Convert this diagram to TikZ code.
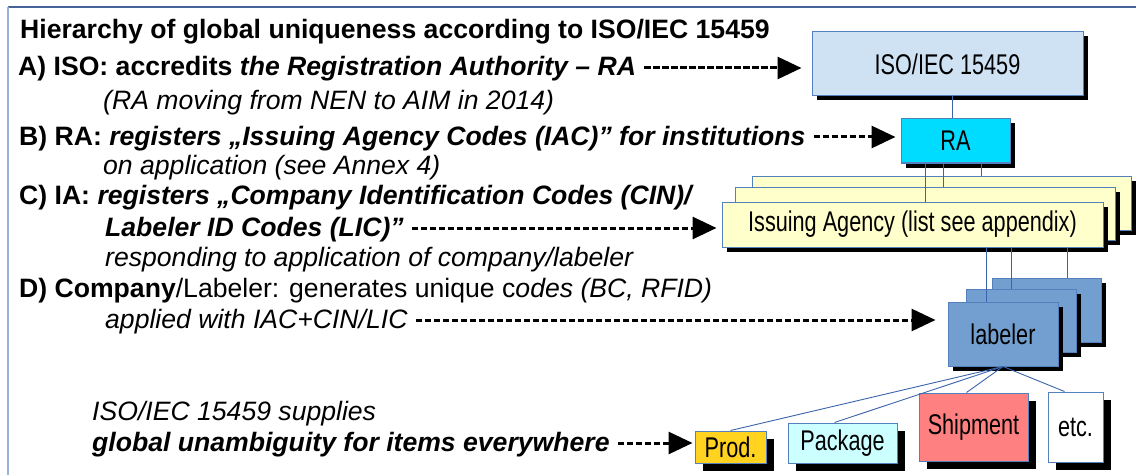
\documentclass[tikz,border=0pt]{standalone}
\usepackage{fontspec}
\setmainfont{Liberation Sans}
\newfontfamily\boxfont[FakeStretch=0.76]{Liberation Sans}
\usetikzlibrary{arrows.meta,shadows}

\definecolor{framedark}{RGB}{70,100,150}
\definecolor{framelight}{RGB}{150,178,220}
\definecolor{boxline}{RGB}{85,128,190}
\definecolor{linkblue}{RGB}{60,100,170}
\definecolor{isofill}{RGB}{207,226,243}
\definecolor{rafill}{RGB}{0,220,255}
\definecolor{iafill}{RGB}{255,255,204}
\definecolor{labfill}{RGB}{114,159,207}
\definecolor{prodfill}{RGB}{255,211,32}
\definecolor{pkgfill}{RGB}{204,255,255}
\definecolor{shipfill}{RGB}{255,128,128}

\tikzset{
	txt/.style={anchor=base west, inner sep=0pt, font=\fontsize{26.6}{32}\selectfont},
	box/.style={draw=boxline, line width=1pt, inner sep=0pt, font=\boxfont\fontsize{28.5}{28.5}\selectfont,
		general shadow={fill=black, shadow xshift=#1, shadow yshift=-#1}},
	box/.default=4.5pt,
	link/.style={draw=linkblue, line width=0.9pt},
	dasharrow/.style={line width=3pt, dash pattern=on 6.5pt off 2.5pt, -{Triangle[length=24pt,width=22pt]}}
}

\begin{document}
\begin{tikzpicture}[x=1pt,y=1pt]
		%%%%% START %%%%%
		\fill[white] (0,0) rectangle (1136,475);
		\useasboundingbox (0,0) rectangle (1136,475);
		
		\draw[framedark, line width=1.2pt] (8,468) -- (1136,468);
		\draw[framelight, line width=1.5pt] (8,468) -- (8,0);
		
		% text on the left
		\node[txt] (title) at (20,436) {\textbf{Hierarchy of global uniqueness according to ISO/IEC 15459}};
		\node[txt] (lineA) at (18,399) {\textbf{A) ISO: accredits \textit{the Registration Authority – RA}}};
		\node[txt] (lineA2) at (103,365) {\textit{(RA moving from NEN to AIM in 2014)}};
		\node[txt] (lineB) at (19,330) {\textbf{B) RA: \textit{registers „Issuing Agency Codes (IAC)” for institutions}}};
		\node[txt] (lineB2) at (103,301) {\textit{on application (see Annex 4)}};
		\node[txt] (lineC) at (19,271) {\textbf{C) IA: \textit{registers „Company Identification Codes (CIN)/}}};
		\node[txt] (lineC2) at (105,239) {\textbf{\textit{Labeler ID Codes (LIC)”}}};
		\node[txt] (lineC3) at (105,209) {\textit{responding to application of company/labeler}};
		\node[txt] (lineD) at (19,178) {\textbf{D) Company}/Labeler: generates unique c\textit{odes (BC, RFID)}};
		\node[txt] (lineD2) at (105,147) {\textit{applied with IAC+CIN/LIC}};
		\node[txt] (sum1) at (92,55) {\textit{ISO/IEC 15459 supplies}};
		\node[txt] (sum2) at (92,24) {\textbf{\textit{global unambiguity for items everywhere}}};
		
		% hierarchy boxes
		\node[box, fill=isofill, minimum width=271pt, minimum height=64pt] (iso) at (947.5,411) {ISO/IEC 15459};
		\node[box, fill=rafill, minimum width=109pt, minimum height=44pt] (ra) at (955.5,334) {RA};
		
		\node[box, fill=iafill, minimum width=379pt, minimum height=54pt] (iaback) at (941.5,272) {};
		\node[box, fill=iafill, minimum width=380pt, minimum height=53pt] (iamid) at (925,261.5) {};
		\node[box, fill=iafill, minimum width=381pt, minimum height=45pt] (iafront) at (912.5,250.5) {Issuing Agency (list see appendix)};
		
		\node[box, fill=labfill, minimum width=109pt, minimum height=64pt] (labback) at (1046.5,165) {};
		\node[box, fill=labfill, minimum width=110pt, minimum height=63pt] (labmid) at (1021,154.5) {};
		\node[box, fill=labfill, minimum width=110pt, minimum height=64pt] (labfront) at (1003,141) {labeler};
		
		\node[box=8pt, fill=prodfill, minimum width=71pt, minimum height=32pt] (prod) at (730.5,28) {Prod.};
		\node[box=8pt, fill=pkgfill, minimum width=109pt, minimum height=40pt] (pkg) at (842.5,32) {Package};
		\node[box=8pt, fill=shipfill, minimum width=109pt, minimum height=68pt] (ship) at (973.5,48) {Shipment};
		\node[box=8pt, fill=white, minimum width=55pt, minimum height=70pt] (etcbox) at (1075.5,48) {etc.};
		
		% tree lines
		\draw[link] ([xshift=4.5pt]iso.south) -- ([xshift=4.5pt]iso.south |- ra.north);
		
		\draw[link] ([xshift=25.5pt]ra.south) -- ([xshift=25.5pt]ra.south |- iaback.north);
		\draw[link] ([xshift=-12.5pt]ra.south) -- ([xshift=-12.5pt]ra.south |- iamid.north);
		\draw[link] ([xshift=-30.5pt]ra.south) -- ([xshift=-30.5pt]ra.south |- iafront.north);
		
		\draw[link] ([xshift=154.5pt]iafront.south) -- ([xshift=154.5pt]iafront.south |- labback.north);
		\draw[link] ([xshift=98.5pt]iafront.south) -- ([xshift=98.5pt]iafront.south |- labmid.north);
		\draw[link] ([xshift=73.5pt]iafront.south) -- ([xshift=73.5pt]iafront.south |- labfront.north);
		
		\draw[link] (labfront.south) -- (prod.north);
		\draw[link] (labfront.south) -- ([xshift=-8pt]pkg.north);
		\draw[link] (labfront.south) -- ([xshift=-7pt]ship.north);
		\draw[link] (labfront.south) -- ([xshift=-11pt]etcbox.north);
		
		% dashed pointers
		\coordinate (a0) at ([shift={(8pt,8pt)}]lineA.base east);
		\coordinate (b0) at ([shift={(8pt,8pt)}]lineB.base east);
		\coordinate (c0) at ([shift={(8pt,8pt)}]lineC2.base east);
		\coordinate (d0) at ([shift={(8pt,8pt)}]lineD2.base east);
		\coordinate (s0) at ([shift={(8pt,8pt)}]sum2.base east);
		\draw[dasharrow, shorten >=10pt] (a0) -- (a0 -| iso.west);
		\draw[dasharrow, shorten >=5pt] (b0) -- (b0 -| ra.west);
		\draw[dasharrow, shorten >=5pt] (c0) -- (c0 -| iafront.west);
		\draw[dasharrow, shorten >=12pt] (d0) -- (d0 -| labfront.west);
		\draw[dasharrow, shorten >=2pt] (s0) -- (s0 -| prod.west);
		
		%%%%% END %%%%%
\end{tikzpicture}
\end{document}
